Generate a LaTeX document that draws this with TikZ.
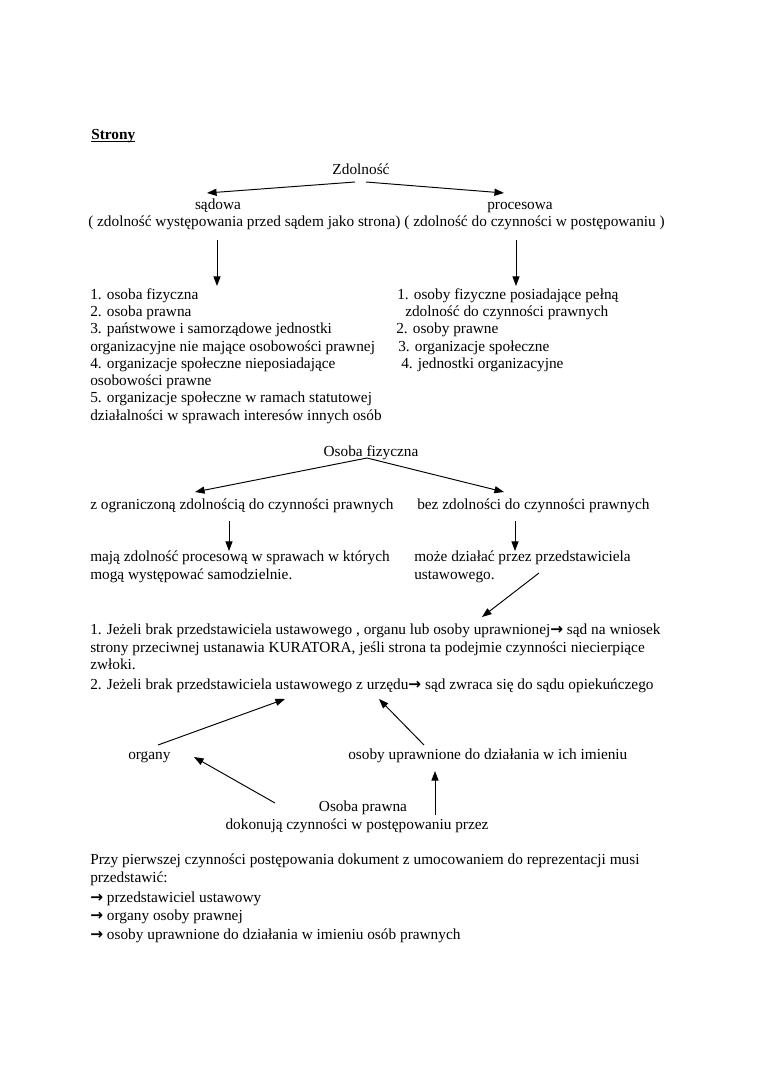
\documentclass[tikz,border=0pt]{standalone}
\usepackage{fontspec}
\setmainfont{Liberation Serif}
\newfontfamily\arrfont{DejaVu Sans}
\usetikzlibrary{arrows.meta}
\newcommand{\ar}{{\arrfont\bfseries →}}
\tikzset{
  txt/.style={anchor=west, inner sep=0pt, text height=9pt, text depth=2.5pt, font=\fontsize{12}{14}\selectfont},
  ctr/.style={txt, anchor=center},
  arr/.style={-{Triangle[length=7.5pt,width=5.5pt]}, line width=0.75pt}
}
\begin{document}
\begin{tikzpicture}[x=0.78326pt, y=-0.78326pt]
\useasboundingbox (0,0) rectangle (760,1075);
% title
\node[txt] (title) at (91,135) {\textbf{Strony}};
\draw[line width=0.8pt] ([yshift=-1.6pt]title.base west) -- ([yshift=-1.6pt]title.base east);
% Zdolnosc
\node[ctr] (zd) at (361,170) {Zdolność};
\node[ctr] (sad) at (218,205) {sądowa};
\node[ctr] (proc) at (520,205) {procesowa};
\node[txt] (expl) at (88,222) {( zdolność występowania przed sądem jako strona) ( zdolność do czynności w postępowaniu )};
\coordinate (zdL) at (355,182);
\coordinate (zdR) at (366,182);
\coordinate (sadT) at (207,193);
\coordinate (procT) at (504,193);
\draw[arr] (zdL) -- (sadT);
\draw[arr] (zdR) -- (procT);
\coordinate (dA1) at (217,240);
\coordinate (dA2) at (217,286);
\coordinate (dB1) at (516,240);
\coordinate (dB2) at (516,286);
\draw[arr] (dA1) -- (dA2);
\draw[arr] (dB1) -- (dB2);
% left list
\node[txt] (l1) at (90,295) {1. osoba fizyczna};
\node[txt] (l2) at (90,312.3) {2. osoba prawna};
\node[txt] (l3) at (90,329.6) {3. państwowe i samorządowe jednostki};
\node[txt] (l4) at (90,346.9) {organizacyjne nie mające osobowości prawnej};
\node[txt] (l5) at (90,364.2) {4. organizacje społeczne nieposiadające};
\node[txt] (l6) at (90,381.5) {osobowości prawne};
\node[txt] (l7) at (90,398.8) {5. organizacje społeczne w ramach statutowej};
\node[txt] (l8) at (90,416.1) {działalności w sprawach interesów innych osób};
% right list
\node[txt] (r1) at (397,295) {1. osoby fizyczne posiadające pełną};
\node[txt] (r2) at (405,312.3) {zdolność do czynności prawnych};
\node[txt] (r3) at (396,329.6) {2. osoby prawne};
\node[txt] (r4) at (398,346.9) {3. organizacje społeczne};
\node[txt] (r5) at (401,364.2) {4. jednostki organizacyjne};
% Osoba fizyczna
\node[ctr] (of) at (371,452) {Osoba fizyczna};
\node[txt] (ogr) at (90,505) {z ograniczoną zdolnością do czynności prawnych};
\node[txt] (bez) at (417,505) {bez zdolności do czynności prawnych};
\coordinate (of0) at (367,458);
\coordinate (ogrT) at (195,492);
\coordinate (bezT) at (504,492);
\draw[arr] (of0) -- (ogrT);
\draw[arr] (of0) -- (bezT);
\coordinate (dC1) at (229,521);
\coordinate (dC2) at (229,551);
\coordinate (dD1) at (515,521);
\coordinate (dD2) at (515,551);
\draw[arr] (dC1) -- (dC2);
\draw[arr] (dD1) -- (dD2);
\node[txt] (maja1) at (90,557) {mają zdolność procesową w sprawach w których};
\node[txt] (maja2) at (90,575) {mogą występować samodzielnie.};
\node[txt] (moze1) at (414,557) {może działać przez przedstawiciela};
\node[txt] (moze2) at (414,575) {ustawowego.};
\coordinate (dg1) at (539,573);
\coordinate (dg2) at (482,617);
\draw[arr] (dg1) -- (dg2);
% paragraph
\node[txt] (p1) at (90,630) {1. Jeżeli brak przedstawiciela ustawowego , organu lub osoby uprawnionej\ar{} sąd na wniosek};
\node[txt] (p2) at (90,648) {strony przeciwnej ustanawia KURATORA, jeśli strona ta podejmie czynności niecierpiące};
\node[txt] (p3) at (90,665) {zwłoki.};
\node[txt] (p4) at (90,685) {2. Jeżeli brak przedstawiciela ustawowego z urzędu\ar{} sąd zwraca się do sądu opiekuńczego};
% osoba prawna
\node[txt] (org) at (128,755) {organy};
\node[txt] (osu) at (348,755) {osoby uprawnione do działania w ich imieniu};
\node[ctr] (op1) at (363,807) {Osoba prawna};
\node[ctr] (op2) at (357,825) {dokonują czynności w postępowaniu przez};
\coordinate (a1s) at (158,745);
\coordinate (a1e) at (285,699);
\coordinate (a2s) at (424,745);
\coordinate (a2e) at (379,699);
\coordinate (a3s) at (275,803);
\coordinate (a3e) at (194,757);
\coordinate (a4s) at (435,815);
\coordinate (a4e) at (435,771);
\draw[arr] (a1s) -- (a1e);
\draw[arr] (a2s) -- (a2e);
\draw[arr] (a3s) -- (a3e);
\draw[arr] (a4s) -- (a4e);
% bottom
\node[txt] (b1) at (90,860) {Przy pierwszej czynności postępowania dokument z umocowaniem do reprezentacji musi};
\node[txt] (b2) at (90,878) {przedstawić:};
\node[txt] (b3) at (90,898) {\ar{} przedstawiciel ustawowy};
\node[txt] (b4) at (90,916) {\ar{} organy osoby prawnej};
\node[txt] (b5) at (90,935) {\ar{} osoby uprawnione do działania w imieniu osób prawnych};
\end{tikzpicture}
\end{document}
